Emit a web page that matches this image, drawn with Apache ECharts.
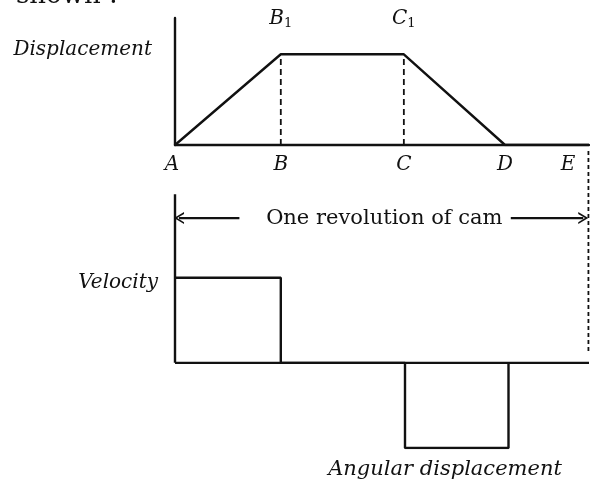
<!DOCTYPE html>
<html>
<head>
<meta charset="utf-8">
<script src="https://cdn.jsdelivr.net/npm/echarts@6/dist/echarts.min.js"></script>
<style>
  html, body { margin: 0; padding: 0; background: #fff; }
  #chart { width: 590px; height: 486px; }
</style>
</head>
<body>
<div id="chart"></div>
<script>
// cam diagram: points along one revolution (angle in degrees)
const pointNames = ['A', 'B', 'C', 'D', 'E'];
const pointAngles = [0, 92, 199, 287, 360];
const displacement = [0, 1, 1, 0, 0];
// follower velocity: constant up during rise, constant down during return
const riseSpan = [0, 92];
const returnSpan = [200, 290];
const velocityLevel = 1;
const revolutionLevel = 1.7;

const serif = '"DejaVu Serif", "Liberation Serif", serif';
const black = '#111';
const lw = 2.4;

let ec = echarts.init(document.getElementById('chart'));

// displacement polyline A - B1 - C1 - D - E
let dispLine = pointAngles.map((a, i) => [a, displacement[i]]);

// dashed drops from B1 and C1
let dashed = [1, 2].map(i => ({
    type: 'line', xAxisIndex: 0, yAxisIndex: 0, symbol: 'none', silent: true,
    lineStyle: { color: black, width: 1.8, type: [6, 4] },
    data: [[pointAngles[i], 0], [pointAngles[i], displacement[i]]]
}));

// velocity boxes (rise above, return below the base line)
let vel = [
    [riseSpan[0], velocityLevel], [riseSpan[1], velocityLevel], [riseSpan[1], 0],
    [returnSpan[0], 0], [returnSpan[0], -velocityLevel], [returnSpan[1], -velocityLevel], [returnSpan[1], 0]
];

const chevron = 'path://M0,10 L5,0 L10,10 L8.4,10 L5,3.2 L1.6,10 Z';
const plainText = { show: true, color: black, opacity: 1 };

let option = {
    animation: false,
    grid: [
        { left: 175, right: 1, top: 18, bottom: 341 },
        { left: 175, right: 1, top: 150, bottom: 38 }
    ],
    xAxis: [
        { gridIndex: 0, type: 'value', min: 0, max: 360, show: true,
          axisLine: { show: true, lineStyle: { color: black, width: lw } },
          axisTick: { show: false }, axisLabel: { show: false }, splitLine: { show: false } },
        { gridIndex: 1, type: 'value', min: 0, max: 360, show: false }
    ],
    yAxis: [
        { gridIndex: 0, type: 'value', min: 0, max: 1.4,
          axisLine: { show: true, lineStyle: { color: black, width: lw } },
          axisTick: { show: false }, axisLabel: { show: false }, splitLine: { show: false } },
        { gridIndex: 1, type: 'value', min: -1, max: 2.5, show: false }
    ],
    graphic: [
        { type: 'text', x: 16, y: -17, style: { text: 'shown :', font: '26px ' + serif, fill: black } },
        { type: 'text', x: 152, y: 50, style: { text: 'Displacement', font: 'italic 20px ' + serif, fill: black, align: 'right', verticalAlign: 'middle' } },
        { type: 'text', x: 158, y: 283, style: { text: 'Velocity', font: 'italic 20px ' + serif, fill: black, align: 'right', verticalAlign: 'middle' } },
        { type: 'text', x: 445, y: 470, style: { text: 'Angular displacement', font: 'italic 21px ' + serif, fill: black, align: 'center', verticalAlign: 'middle' } }
    ],
    series: [
        {
            type: 'line', xAxisIndex: 0, yAxisIndex: 0, symbol: 'none', silent: true,
            lineStyle: { color: black, width: lw },
            data: dispLine
        },
        ...dashed,
        // point letters under the base line
        {
            type: 'scatter', xAxisIndex: 0, yAxisIndex: 0, symbolSize: 0, silent: true,
            itemStyle: { opacity: 1 },
            label: Object.assign({}, plainText, { position: 'bottom', distance: 10, fontFamily: serif, fontStyle: 'italic', fontSize: 20,
                     formatter: p => pointNames[p.dataIndex] }),
            data: pointAngles.map((a, i) => ({ value: [a, 0], label: { offset: [i === 0 ? -3 : (i === 4 ? -21 : 0), 0] } }))
        },
        // B1, C1 above the flat top
        {
            type: 'scatter', xAxisIndex: 0, yAxisIndex: 0, symbolSize: 0, silent: true,
            itemStyle: { opacity: 1 },
            label: Object.assign({}, plainText, { position: 'top', distance: 24,
                     formatter: p => '{v|' + pointNames[p.dataIndex + 1] + '}{s|1}',
                     rich: { v: { fontFamily: serif, fontStyle: 'italic', fontSize: 20, color: black },
                             s: { fontFamily: serif, fontSize: 13, color: black, padding: [10, 0, 0, 0] } } }),
            data: [[pointAngles[1], displacement[1]], [pointAngles[2], displacement[2]]]
        },
        // velocity base line over the whole revolution
        {
            type: 'line', xAxisIndex: 1, yAxisIndex: 1, symbol: 'none', silent: true,
            lineStyle: { color: black, width: lw },
            data: [[pointAngles[0], 0], [pointAngles[4], 0]]
        },
        // velocity diagram
        {
            type: 'line', xAxisIndex: 1, yAxisIndex: 1, symbol: 'none', silent: true,
            lineStyle: { color: black, width: lw },
            data: vel
        },
        // left boundary of the revolution
        {
            type: 'line', xAxisIndex: 1, yAxisIndex: 1, symbol: 'none', silent: true,
            lineStyle: { color: black, width: lw },
            data: [[pointAngles[0], 0], [pointAngles[0], 1.98]]
        },
        // dashed line at E
        {
            type: 'line', xAxisIndex: 1, yAxisIndex: 1, symbol: 'none', silent: true, clip: false,
            lineStyle: { color: black, width: 1.8, type: [4, 3] },
            data: [[pointAngles[4] - 0.5, 0.14], [pointAngles[4] - 0.5, 2.5]]
        },
        // one revolution arrows
        {
            type: 'line', xAxisIndex: 1, yAxisIndex: 1, silent: true, showSymbol: true,
            lineStyle: { color: black, width: lw }, itemStyle: { color: black },
            data: [
                { value: [3.5, revolutionLevel], symbol: chevron, symbolSize: [12, 10], symbolRotate: 90 },
                { value: [56, revolutionLevel], symbol: 'none' }
            ]
        },
        {
            type: 'line', xAxisIndex: 1, yAxisIndex: 1, silent: true, showSymbol: true,
            lineStyle: { color: black, width: lw }, itemStyle: { color: black },
            data: [
                { value: [292, revolutionLevel], symbol: 'none' },
                { value: [355, revolutionLevel], symbol: chevron, symbolSize: [12, 10], symbolRotate: -90 }
            ]
        },
        {
            type: 'scatter', xAxisIndex: 1, yAxisIndex: 1, symbolSize: 0, silent: true,
            itemStyle: { opacity: 1 },
            label: Object.assign({}, plainText, { position: 'inside', fontFamily: serif, fontSize: 21,
                     formatter: 'One revolution of cam' }),
            data: [[182, revolutionLevel]]
        }
    ]
};

ec.setOption(option);
</script>
</body>
</html>
